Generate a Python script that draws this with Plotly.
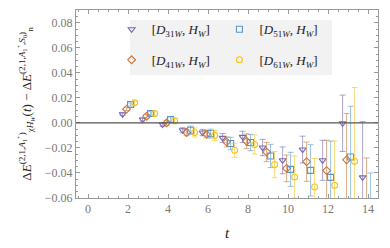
import plotly.graph_objects as go

t_vals = [2, 3, 4, 5, 6, 7, 8, 9, 10, 11, 12, 13, 14]

d31_y = [0.0069, 0.0027, -0.0013, -0.0059, -0.0077, -0.0120, -0.0112, -0.0197, -0.0299, -0.0213, -0.0299, -0.0003, -0.0435]
d31_e = [0.0010, 0.0012, 0.0015, 0.0020, 0.0025, 0.0035, 0.0045, 0.0065, 0.0107, 0.0107, 0.0160, 0.0225, 0.0445]

d41_y = [0.0110, 0.0053, 0.0000, -0.0077, -0.0090, -0.0152, -0.0147, -0.0232, -0.0363, -0.0310, -0.0381, -0.0295, -0.0700]
d41_e = [0.0012, 0.0015, 0.0018, 0.0025, 0.0030, 0.0040, 0.0059, 0.0077, 0.0107, 0.0157, 0.0243, 0.0370, 0.0420]

d51_y = [0.0147, 0.0075, 0.0027, -0.0059, -0.0085, -0.0165, -0.0157, -0.0264, -0.0371, -0.0379, -0.0435, -0.0272, -0.0850]
d51_e = [0.0013, 0.0015, 0.0020, 0.0033, 0.0035, 0.0050, 0.0065, 0.0093, 0.0136, 0.0205, 0.0290, 0.0405, 0.0450]

d61_y = [0.0160, 0.0075, 0.0016, -0.0077, -0.0100, -0.0219, -0.0173, -0.0333, -0.0432, -0.0512, -0.0499, -0.0307, None]
d61_e = [0.0013, 0.0015, 0.0020, 0.0036, 0.0040, 0.0056, 0.0076, 0.0105, 0.0168, 0.0227, 0.0355, 0.0590, None]

series = [
    ("[<i>D</i><sub>31<i>W</i></sub>, <i>H</i><sub><i>W</i></sub>]", d31_y, d31_e, -0.27, "triangle-down-open", (118, 104, 180), "legend", 0.118, 0.897),
    ("[<i>D</i><sub>41<i>W</i></sub>, <i>H</i><sub><i>W</i></sub>]", d41_y, d41_e, -0.07, "diamond-open", (200, 118, 58), "legend2", 0.118, 0.735),
    ("[<i>D</i><sub>51<i>W</i></sub>, <i>H</i><sub><i>W</i></sub>]", d51_y, d51_e, 0.13, "square-open", (86, 152, 206), "legend3", 0.475, 0.897),
    ("[<i>D</i><sub>61<i>W</i></sub>, <i>H</i><sub><i>W</i></sub>]", d61_y, d61_e, 0.33, "circle-open", (247, 194, 30), "legend4", 0.475, 0.735),
]

serif = "Liberation Serif"

fig = go.Figure()
legends = {}
for name, ys, es, off, sym, (r, g, b), lg, lx, ly in series:
    fig.add_trace(go.Scatter(
        x=[tv + off for tv in t_vals], y=ys, mode="markers", name=name, legend=lg,
        marker=dict(symbol=sym, size=6, color=f"rgb({r},{g},{b})", line=dict(width=1.1, color=f"rgb({r},{g},{b})")),
        error_y=dict(type="data", array=es, visible=True, thickness=1, width=3, color=f"rgba({r},{g},{b},0.6)"),
    ))
    legends[lg] = dict(x=lx, y=ly, xanchor="left", yanchor="middle", bgcolor="rgba(0,0,0,0)",
                       font=dict(family=serif, size=13, color="#222"), itemwidth=30)

axis_common = dict(showline=True, linecolor="#999", linewidth=1, mirror="ticks", ticks="inside",
                   tickcolor="#999", ticklen=4, showgrid=False, zeroline=False, automargin=False,
                   tickfont=dict(family=serif, size=12, color="#777"))

fig.update_layout(
    width=390, height=248,
    margin=dict(l=76, r=12, t=10, b=50),
    paper_bgcolor="white", plot_bgcolor="white",
    showlegend=True,
    xaxis=dict(range=[-0.6, 14.5], dtick=2, tick0=0,
               minor=dict(dtick=0.5, ticks="inside", ticklen=2, tickcolor="#999"),
               title=dict(text="<i>t</i>", font=dict(family=serif, size=15, color="#222"), standoff=12),
               **axis_common),
    yaxis=dict(range=[-0.06, 0.0902], dtick=0.02, tick0=0, tickformat=".2f",
               minor=dict(dtick=0.005, ticks="inside", ticklen=2, tickcolor="#999"),
               title=dict(text="Δ<i>E</i><sup>(2,1,<i>A</i><sub>1</sub><sup>+</sup>)</sup><sub>χ<i>H</i><sub><i>W</i></sub></sub>(<i>t</i>) − Δ<i>E</i><sup>(2,1,<i>A</i><sub>1</sub><sup>+</sup>,<i>S</i><sub>0</sub>)</sup><sub>n</sub>",
                          font=dict(family=serif, size=13, color="#222"), standoff=10),
               **axis_common),
    shapes=[
        dict(type="rect", xref="paper", yref="paper", x0=0.179, x1=0.848, y0=0.654, y1=0.947,
             fillcolor="#f2f2f2", line=dict(width=0), layer="below"),
        dict(type="line", xref="paper", yref="y", x0=0, x1=1, y0=0, y1=0,
             line=dict(color="#555", width=1.4), layer="above"),
    ],
    **legends,
)

fig.write_html("out.html", config={"displayModeBar": False},
               post_script="document.body.style.margin='0';document.body.style.overflow='hidden';")
